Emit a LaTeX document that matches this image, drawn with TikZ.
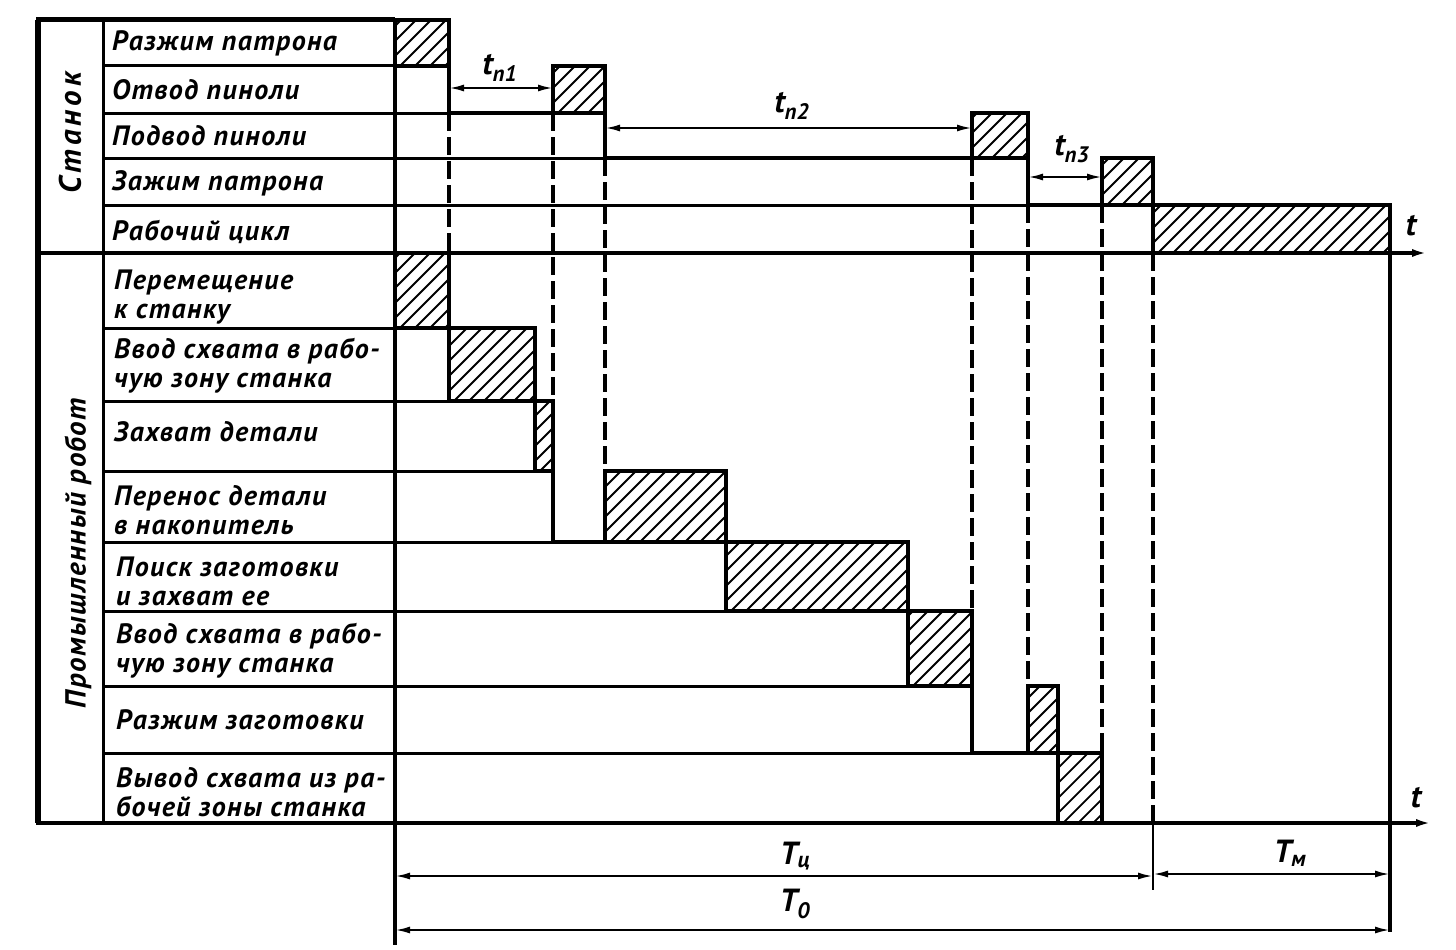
\documentclass[tikz,border=0pt]{standalone}
\usepackage{fontspec}
\setmainfont{PT Sans}
\usetikzlibrary{arrows.meta}
\newcommand{\labfont}{\fontsize{28}{29}\selectfont\bfseries\itshape\addfontfeatures{LetterSpace=5}}
\newcommand{\grpMfont}{\fontsize{31}{31}\selectfont\bfseries\itshape\addfontfeatures{LetterSpace=13}}
\newcommand{\grpRfont}{\fontsize{29}{30}\selectfont\bfseries\itshape\addfontfeatures{LetterSpace=5}}
\newcommand{\dimfont}{\fontsize{32}{32}\selectfont\bfseries\itshape}
% hatched box: x1, y1(top), x2, y2(bottom)
\newcommand{\hbx}[4]{%
  \begin{scope}
    \clip (#1,#2) rectangle (#3,#4);
    \foreach \k in {0,...,24} \draw[hatch] ({#1-90+15*\k},#4+5) -- ++(115,-115);
  \end{scope}
  \draw[boxline] (#1,#2) rectangle (#3,#4);}
% time positions
\def\xA{395}\def\xB{449}\def\xC{535}\def\xD{553}\def\xE{605}\def\xF{726}
\def\xG{908}\def\xH{972}\def\xI{1028}\def\xJ{1058}\def\xK{1102}\def\xL{1153}\def\xM{1390}
% machine rows
\def\rA{20}\def\rB{66}\def\rC{113}\def\rD{158}\def\rE{205}\def\rF{253}
% robot rows
\def\qA{253}\def\qB{328}\def\qC{401}\def\qD{471}\def\qE{542}\def\qF{611}\def\qG{686}\def\qH{753}\def\qI{823}
\begin{document}
\begin{tikzpicture}[x=1pt,y=-1pt,
  thk/.style={line width=4.5pt},
  thn/.style={line width=3pt},
  hatch/.style={line width=1.8pt},
  boxline/.style={line width=4pt},
  dsh/.style={line width=4pt,dash pattern=on 18pt off 6pt},
  lbl/.style={anchor=west,align=left,font=\labfont,inner sep=0pt},
  grpM/.style={font=\grpMfont,rotate=90,inner sep=0pt},
  grpR/.style={font=\grpRfont,rotate=90,inner sep=0pt},
  dimtxt/.style={font=\dimfont,inner sep=0pt},
  dimarr/.style={line width=2.2pt,{Latex[length=15pt,width=7pt]}-{Latex[length=15pt,width=7pt]}},
  axis/.style={line width=4.5pt,-{Latex[length=16pt,width=8pt]}}]
\useasboundingbox (0,0) rectangle (1456,950);

% ---------- table ----------
\draw[line width=5.5pt] (38,\rA) -- (38,\qI);
\draw[thn] (103,\rA) -- (103,\qI);
\draw[line width=5pt] (36,\rA) -- (\xA,\rA);
% machine row lines
\draw[thn] (103,\rB) -- (\xA,\rB);
\draw[thn] (103,\rC) -- (\xB,\rC);
\draw[thn] (103,\rD) -- (\xE,\rD);
\draw[thn] (103,\rE) -- (\xI,\rE);
% robot row lines
\draw[thn] (103,\qB) -- (\xA,\qB);
\draw[thn] (103,\qC) -- (\xB,\qC);
\draw[thn] (103,\qD) -- (\xC,\qD);
\draw[thn] (103,\qE) -- (\xD,\qE);
\draw[thn] (103,\qF) -- (\xF,\qF);
\draw[thn] (103,\qG) -- (\xG,\qG);
\draw[thn] (103,\qH) -- (\xH,\qH);

% zero line of the chart
\draw[thk] (\xA,\rA) -- (\xA,945);

% ---------- machine boxes ----------
\hbx{\xA}{\rA}{\xB}{\rB}
\hbx{\xD}{\rB}{\xE}{\rC}
\hbx{\xH}{\rC}{\xI}{\rD}
\hbx{\xK}{\rD}{\xL}{\rE}
\hbx{\xL}{\rE}{\xM}{\rF}
% machine steps
\draw[thk] (\xB,\rB) -- (\xB,\rC) -- (\xD,\rC);
\draw[thk] (\xE,\rC) -- (\xE,\rD) -- (\xH,\rD);
\draw[thk] (\xI,\rD) -- (\xI,\rE) -- (\xK,\rE);

% ---------- robot boxes ----------
\hbx{\xA}{\qA}{\xB}{\qB}
\hbx{\xB}{\qB}{\xC}{\qC}
\hbx{\xC}{\qC}{\xD}{\qD}
\hbx{\xE}{\qD}{\xF}{\qE}
\hbx{\xF}{\qE}{\xG}{\qF}
\hbx{\xG}{\qF}{\xH}{\qG}
\hbx{\xI}{\qG}{\xJ}{\qH}
\hbx{\xJ}{\qH}{\xK}{\qI}
% robot steps
\draw[thk] (\xD,\qD) -- (\xD,\qE) -- (\xE,\qE);
\draw[thk] (\xH,\qG) -- (\xH,\qH) -- (\xI,\qH);

% ---------- dashed links ----------
\draw[dsh] (\xB,\rC) -- (\xB,\qA);
\draw[dsh] (\xD,\rC) -- (\xD,\qC);
\draw[dsh] (\xE,\rD) -- (\xE,\qD);
\draw[dsh] (\xH,\rD) -- (\xH,\qF);
\draw[dsh] (\xI,\rE) -- (\xI,\qG);
\draw[dsh] (\xK,\rE) -- (\xK,\qH);
\draw[dsh] (\xL,\rF) -- (\xL,\qI);
\draw[line width=2.5pt] (\xL,\qI) -- (\xL,890);
\draw[line width=3.5pt] (\xM,\rF) -- (\xM,932);

% ---------- axes ----------
\draw[axis] (36,\rF) -- (1428,\rF);
\draw[axis] (36,\qI) -- (1432,\qI);
\node[dimtxt] (tA) at (1411,226) {t};
\node[dimtxt] (tB) at (1416,798) {t};

% ---------- labels ----------
\node[grpM] (gM) at (70,133) {Станок};
\node[grpR] (gR) at (78,553) {Промышленный робот};
\node[lbl] (m1) at (112,43) {Разжим патрона};
\node[lbl] (m2) at (112,90) {Отвод пиноли};
\node[lbl] (m3) at (112,136) {Подвод пиноли};
\node[lbl] (m4) at (112,183) {Зажим патрона};
\node[lbl] (m5) at (112,232) {Рабочий цикл};
\node[lbl] (p1) at (114,297) {Перемещение\\к станку};
\node[lbl] (p2) at (114,366) {Ввод схвата в рабо-\\чую зону станка};
\node[lbl] (p3) at (114,432) {Захват детали};
\node[lbl] (p4) at (114,510) {Перенос детали\\в накопитель};
\node[lbl] (p5) at (116,581) {Поиск заготовки\\и захват ее};
\node[lbl] (p6) at (116,651) {Ввод схвата в рабо-\\чую зону станка};
\node[lbl] (p7) at (116,720) {Разжим заготовки};
\node[lbl] (p8) at (116,792) {Вывод схвата из ра-\\бочей зоны станка};

% ---------- dimensions ----------
\coordinate (d1a) at (\xB,88);  \coordinate (d1b) at (\xD,88);
\coordinate (d2a) at (\xE,128); \coordinate (d2b) at (\xH,128);
\coordinate (d3a) at (\xI,177); \coordinate (d3b) at (\xK,177);
\draw[dimarr] (d1a) -- (d1b);
\draw[dimarr] (d2a) -- (d2b);
\draw[dimarr] (d3a) -- (d3b);
\node[dimtxt] (n1) at (500,68) {t\textsubscript{п1}};
\node[dimtxt] (n2) at (792,106) {t\textsubscript{п2}};
\node[dimtxt] (n3) at (1072,149) {t\textsubscript{п3}};

\coordinate (e1a) at (\xA,876); \coordinate (e1b) at (\xL,876);
\coordinate (e2a) at (\xL,874); \coordinate (e2b) at (\xM,874);
\coordinate (e3a) at (\xA,930); \coordinate (e3b) at (\xM,930);
\draw[dimarr] (e1a) -- (e1b);
\draw[dimarr] (e2a) -- (e2b);
\draw[dimarr] (e3a) -- (e3b);
\node[dimtxt] (T1) at (795,856) {Т\textsubscript{ц}};
\node[dimtxt] (T2) at (1290,853) {Т\textsubscript{м}};
\node[dimtxt] (T3) at (795,904) {Т\textsubscript{0}};
\end{tikzpicture}
\end{document}
